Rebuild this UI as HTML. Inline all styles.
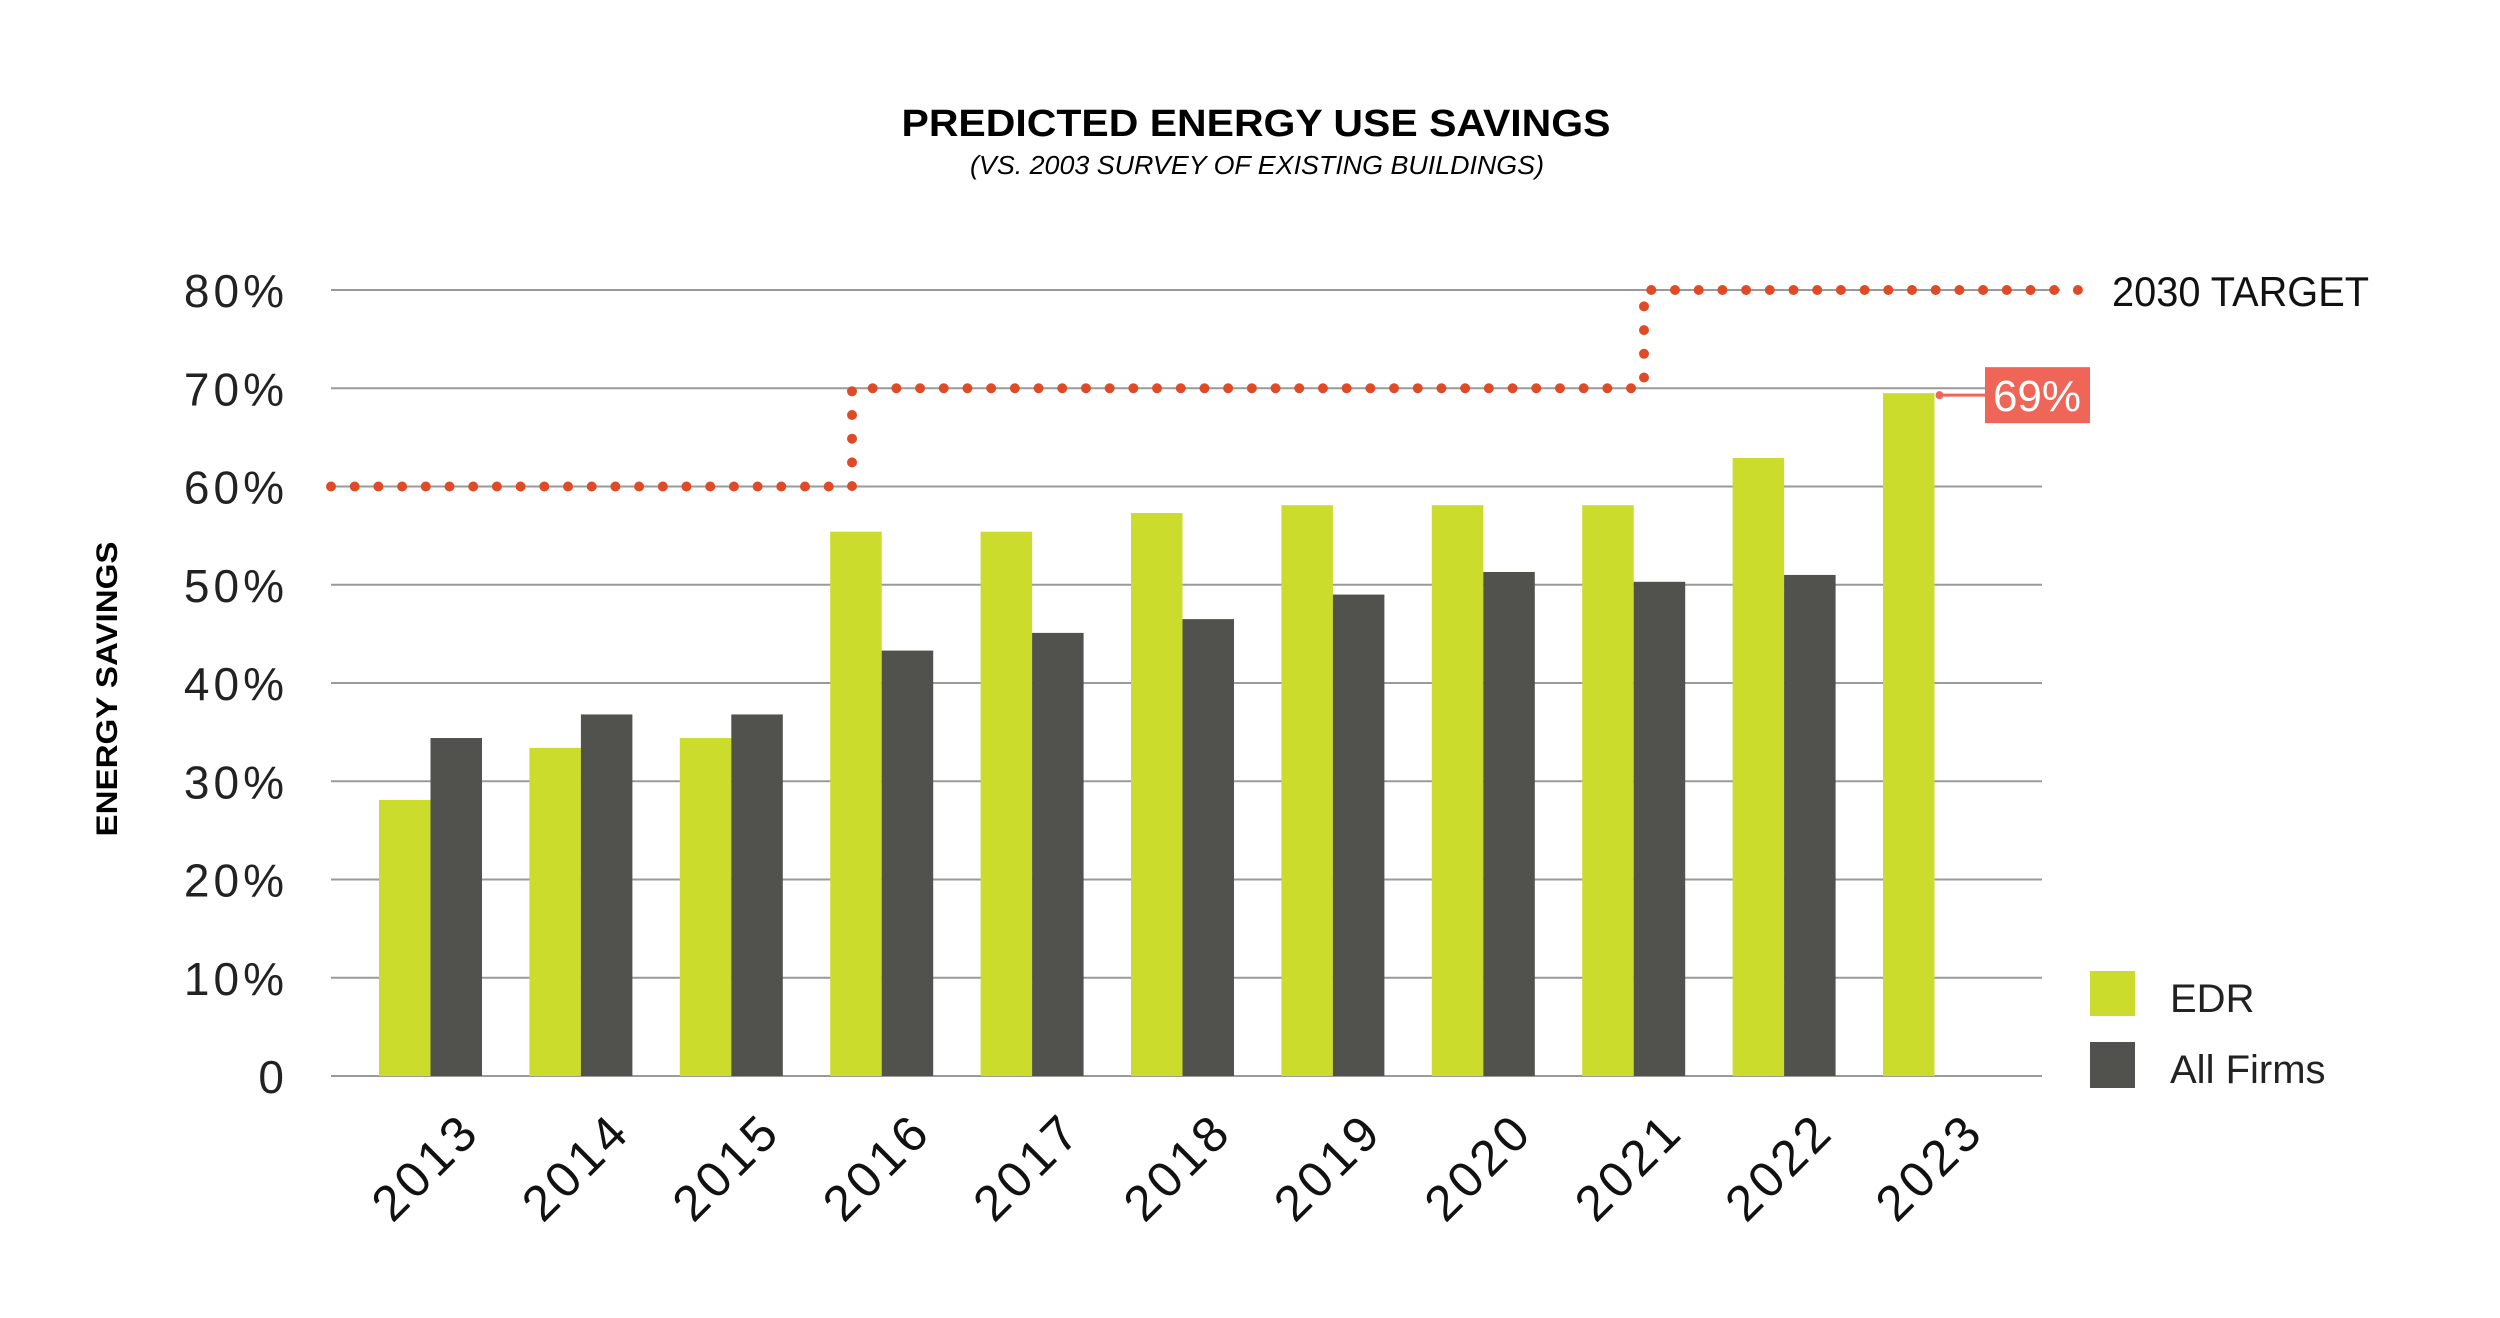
<!DOCTYPE html>
<html><head><meta charset="utf-8"><style>
html,body{margin:0;padding:0;background:#fff;}
svg{display:block;}
text{font-family:"Liberation Sans",sans-serif;}
</style></head><body>
<svg id="chart" width="2500" height="1318" viewBox="0 0 2500 1318" xmlns="http://www.w3.org/2000/svg">
<text x="1256" y="136" text-anchor="middle" font-size="38" font-weight="bold" textLength="709" lengthAdjust="spacingAndGlyphs">PREDICTED ENERGY USE SAVINGS</text>
<text x="1257" y="174" text-anchor="middle" font-size="26" font-style="italic" textLength="574" lengthAdjust="spacingAndGlyphs">(VS. 2003 SURVEY OF EXISTING BUILDINGS)</text>
<text transform="translate(117,689) rotate(-90)" text-anchor="middle" font-size="30" font-weight="bold" textLength="295" lengthAdjust="spacingAndGlyphs">ENERGY SAVINGS</text>
<g id="grid"></g><g id="yticks"></g><g id="bars"></g><g id="target"></g><g id="xlabels"></g>
<g>
<rect x="2090" y="971" width="45" height="45" fill="#cbdc2c"/>
<text x="2170" y="1012" font-size="40" fill="#222">EDR</text>
<rect x="2090" y="1042" width="45" height="46" fill="#51524d"/>
<text x="2170" y="1083" font-size="40" fill="#222">All Firms</text>
</g>
<text x="2112" y="306" font-size="42" fill="#111" textLength="257" lengthAdjust="spacingAndGlyphs">2030 TARGET</text>
<g id="callout"></g>
</svg>
<script>
const years = ['2013','2014','2015','2016','2017','2018','2019','2020','2021','2022','2023'];
const edr = [28.1,33.4,34.4,55.4,55.4,57.3,58.1,58.1,58.1,62.9,69.5];
const allFirms = [34.4,36.8,36.8,43.3,45.1,46.5,49.0,51.3,50.3,51.0,null];
const yTicks = [0,10,20,30,40,50,60,70,80];
const yTickLabels = ['0','10%','20%','30%','40%','50%','60%','70%','80%'];
const targetSteps = [60,70,80];
const calloutLabel = '69%';

const NS='http://www.w3.org/2000/svg';
const y0=1076, pxPer=9.825;
const Y=v=>y0-v*pxPer;
const groupLeft=i=>379+150.4*i;
const bw=51.5;
function mk(tag,attrs,parent){const e=document.createElementNS(NS,tag);for(const k in attrs)e.setAttribute(k,attrs[k]);document.getElementById(parent).appendChild(e);return e;}

yTicks.forEach((v,i)=>{
  const l=mk('line',{x1:331,x2:(v>=70?2060:2042),y1:Y(v),y2:Y(v),stroke:'#9a9a9a','stroke-width':2},'grid');
  
  
  const t=mk('text',{x:288,y:Y(v)+17,'text-anchor':'end','font-size':46,'letter-spacing':4,fill:'#222'},'yticks');
  t.textContent=yTickLabels[i];
  
  
});

years.forEach((yr,i)=>{
  const x=groupLeft(i);
  const r1=mk('rect',{x:x,y:Y(edr[i]),width:bw,height:edr[i]*pxPer,fill:'#cbdc2c'},'bars');
  
  
  if(allFirms[i]!=null){
    const r2=mk('rect',{x:x+bw,y:Y(allFirms[i]),width:bw,height:allFirms[i]*pxPer,fill:'#51524d'},'bars');
    
    
  }
  const cx=x+bw+52, cy=1134;
  const t=mk('text',{x:cx,y:cy,'text-anchor':'end','font-size':50,'letter-spacing':4,fill:'#111',transform:`rotate(-45 ${cx} ${cy})`},'xlabels');
  t.textContent=yr;
  
  
});

const stepX=[331,852,1644,2090];
const pts=[];
for(let s=0;s<targetSteps.length;s++){
  pts.push([stepX[s],Y(targetSteps[s])]);pts.push([stepX[s+1],Y(targetSteps[s])]);
  if(s<targetSteps.length-1){pts.push([stepX[s+1],Y(targetSteps[s+1])]);}
}
const path=mk('polyline',{points:pts.map(p=>p.join(',')).join(' '),fill:'none',stroke:'#df4b26','stroke-width':10,'stroke-linecap':'round','stroke-dasharray':'0 23.7'},'target');



const last=edr.length-1, bx=groupLeft(last)+bw, by=Y(edr[last])+2;
const ln=mk('line',{x1:bx+5,x2:1985,y1:by,y2:by,stroke:'#ef6558','stroke-width':3},'callout');


const dt=mk('circle',{cx:bx+5,cy:by,r:4,fill:'#ef6558'},'callout');


const box=mk('rect',{x:1985,y:by-28,width:105,height:56,fill:'#ef6558'},'callout');


const ct=mk('text',{x:2037,y:by+16,'text-anchor':'middle','font-size':44,fill:'#fff'},'callout');
ct.textContent=calloutLabel;


</script>
</body></html>
